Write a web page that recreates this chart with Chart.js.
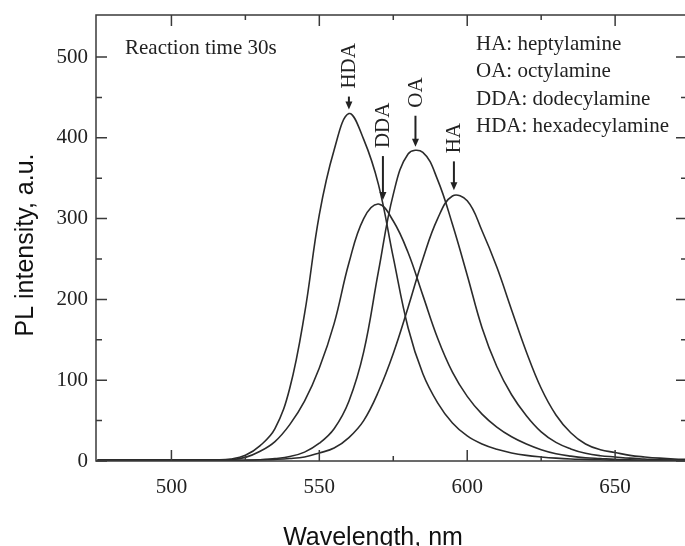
<!DOCTYPE html>
<html>
<head>
<meta charset="utf-8">
<title>PL spectra</title>
<script src="https://cdn.jsdelivr.net/npm/chart.js@4.4.1/dist/chart.umd.min.js"></script>
<style>
    html, body { margin: 0; padding: 0; background: #fff; overflow: hidden; }
    #wrap { width: 685px; height: 546px; overflow: hidden; }
</style>
</head>
<body>
<div id="wrap"><canvas id="plChart" width="690" height="546"></canvas></div>
<script>
/* ========================================
   PL spectra, reaction time 30s
   ======================================== */

// Wavelength grid (nm)
const wavelengths = [475, 480, 485, 490, 495, 500, 505, 510, 515, 520, 525, 530, 535, 540, 545,
    550, 555, 560, 565, 570, 575, 580, 585, 590, 595, 600, 605, 610, 615, 620, 625, 630, 635,
    640, 645, 650, 655, 660, 665, 670, 675];

// PL intensity (a.u.)
const hdaValues = [1.5, 1.5, 1.5, 1.5, 1.5, 1.5, 1.5, 1.5, 1.5, 2.5, 7, 19, 40, 90, 182,
    305, 385, 430, 398, 342, 252, 165, 108, 72, 47, 31, 21, 14.5, 10, 7, 5, 3.5, 2.5,
    2, 1.5, 1, 1, 1, 1, 1, 1];
const ddaValues = [1, 1, 1, 1, 1, 1, 1, 1, 1, 1.5, 4.5, 12, 24, 45, 74,
    115, 170, 245, 300, 318, 297, 258, 205, 152, 110, 80, 58, 42, 30, 21, 14, 9, 6,
    4, 3, 2, 1.5, 1, 1, 1, 1];
const oaValues = [1, 1, 1, 1, 1, 1, 1, 1, 1, 1, 1, 1.5, 3, 5.5, 11,
    22, 40, 74, 135, 235, 330, 380, 382, 348, 293, 230, 165, 117, 82, 56, 36, 23, 15,
    9.5, 6.5, 5, 3.5, 2.5, 1.5, 1, 1];
const haValues = [1, 1, 1, 1, 1, 1, 1, 1, 1, 1, 1, 1.5, 2, 3, 5,
    10, 16, 29, 50, 86, 133, 190, 250, 300, 328, 322, 285, 240, 187, 135, 90, 57, 35,
    21, 14, 10.5, 7, 5, 3.5, 2.5, 2];

// Peak markers (arrow + rotated label)
const peakNames = ['HDA', 'DDA', 'OA', 'HA'];
const peakWavelengths = [560, 571.5, 582.5, 595.5];
const peakValues = [430, 318, 384, 330];
const arrowLengths = [13, 44, 31, 29];

const legendLines = ['HA: heptylamine', 'OA: octylamine', 'DDA: dodecylamine', 'HDA: hexadecylamine'];
const noteText = 'Reaction time 30s';
const xTitle = 'Wavelength, nm';
const yTitle = 'PL intensity, a.u.';

// Axis ticks
const xTickValues = [500, 550, 600, 650];
const xMinorTicks = [525, 575, 625];
const yTickValues = [0, 100, 200, 300, 400, 500];
const yMinorTicks = [50, 150, 250, 350, 450];

const INK = '#2b2b2b';
const SERIF = "'Liberation Serif', 'Times New Roman', serif";
const SANS = "'Liberation Sans', Arial, sans-serif";

function toPoints(values) {
    return wavelengths.map((w, i) => ({ x: w, y: values[i] }));
}

function lineSet(label, values) {
    return {
        label: label,
        data: toPoints(values),
        borderColor: INK,
        borderWidth: 1.6,
        pointRadius: 0,
        fill: false,
        tension: 0.4
    };
}

// frame + inward ticks on all four sides
const frameTicks = {
    id: 'frameTicks',
    afterDatasetsDraw(chart) {
        const { ctx, chartArea: a, scales } = chart;
        const x = scales.x, y = scales.y;
        ctx.save();
        ctx.strokeStyle = '#3a3a3a';
        ctx.lineWidth = 1.5;
        ctx.strokeRect(a.left, a.top, a.right - a.left, a.bottom - a.top);

        ctx.beginPath();
        const hTicks = (vals, len) => vals.forEach(v => {
            const px = x.getPixelForValue(v);
            ctx.moveTo(px, a.bottom); ctx.lineTo(px, a.bottom - len);
            ctx.moveTo(px, a.top); ctx.lineTo(px, a.top + len);
        });
        const vTicks = (vals, len) => vals.forEach(v => {
            const py = y.getPixelForValue(v);
            ctx.moveTo(a.left, py); ctx.lineTo(a.left + len, py);
            ctx.moveTo(a.right, py); ctx.lineTo(a.right - len, py);
        });
        hTicks(xTickValues, 11);
        hTicks(xMinorTicks, 5);
        vTicks(yTickValues, 11);
        vTicks(yMinorTicks, 6);
        ctx.stroke();
        ctx.restore();
    }
};

// arrows, peak labels, note, legend text and axis titles
const annotations = {
    id: 'annotations',
    afterDraw(chart) {
        const { ctx, chartArea: a, scales } = chart;
        const x = scales.x, y = scales.y;
        ctx.save();
        ctx.fillStyle = '#222';
        ctx.strokeStyle = '#222';
        ctx.font = '21px ' + SERIF;

        peakNames.forEach((name, i) => {
            const px = x.getPixelForValue(peakWavelengths[i]);
            const tipY = y.getPixelForValue(peakValues[i]) - 4;
            const tailY = tipY - arrowLengths[i];

            ctx.lineWidth = 2;
            ctx.beginPath();
            ctx.moveTo(px, tailY);
            ctx.lineTo(px, tipY - 6);
            ctx.stroke();

            ctx.beginPath();
            ctx.moveTo(px - 3.5, tipY - 8);
            ctx.lineTo(px + 3.5, tipY - 8);
            ctx.lineTo(px, tipY);
            ctx.closePath();
            ctx.fill();

            ctx.save();
            ctx.translate(px, tailY - 8);
            ctx.rotate(-Math.PI / 2);
            ctx.textAlign = 'left';
            ctx.textBaseline = 'middle';
            ctx.fillText(name, 0, 1);
            ctx.restore();
        });

        ctx.textAlign = 'left';
        ctx.textBaseline = 'middle';
        ctx.fillText(noteText, a.left + 29, a.top + 33);

        legendLines.forEach((line, i) => {
            ctx.fillText(line, a.left + 380, a.top + 29 + i * 27.5);
        });

        // axis titles
        ctx.fillStyle = '#111';
        ctx.font = '25px ' + SANS;
        ctx.textAlign = 'center';
        ctx.textBaseline = 'alphabetic';
        ctx.fillText(xTitle, a.left + 277, chart.height - 1);

        ctx.save();
        ctx.translate(33, a.top + 230);
        ctx.rotate(-Math.PI / 2);
        ctx.fillText(yTitle, 0, 0);
        ctx.restore();

        ctx.restore();
    }
};

document.addEventListener('DOMContentLoaded', function () {
    const ctx = document.getElementById('plChart');

    new Chart(ctx, {
        type: 'line',
        data: {
            datasets: [
                lineSet('HDA', hdaValues),
                lineSet('DDA', ddaValues),
                lineSet('OA', oaValues),
                lineSet('HA', haValues)
            ]
        },
        options: {
            animation: false,
            responsive: false,
            layout: { padding: { top: 15, right: 3, left: 0, bottom: 0 } },
            plugins: {
                legend: { display: false },
                tooltip: { enabled: false }
            },
            scales: {
                x: {
                    type: 'linear',
                    min: 474.5,
                    max: 674.3,
                    afterFit: scale => {
                        scale.height = 85;
                        scale.paddingLeft = 0;
                        scale.paddingRight = 0;
                    },
                    afterBuildTicks: scale => { scale.ticks = xTickValues.map(v => ({ value: v })); },
                    grid: { display: false, drawTicks: false },
                    border: { display: false },
                    ticks: {
                        padding: 14,
                        color: '#222',
                        font: { family: SERIF, size: 21 },
                        maxRotation: 0
                    }
                },
                y: {
                    min: 0,
                    max: 552,
                    afterFit: scale => {
                        scale.width = 96;
                        scale.paddingTop = 0;
                        scale.paddingBottom = 0;
                    },
                    afterBuildTicks: scale => { scale.ticks = yTickValues.map(v => ({ value: v })); },
                    grid: { display: false, drawTicks: false },
                    border: { display: false },
                    ticks: {
                        padding: 8,
                        color: '#222',
                        font: { family: SERIF, size: 21 }
                    }
                }
            }
        },
        plugins: [frameTicks, annotations]
    });
});
</script>
</body>
</html>
